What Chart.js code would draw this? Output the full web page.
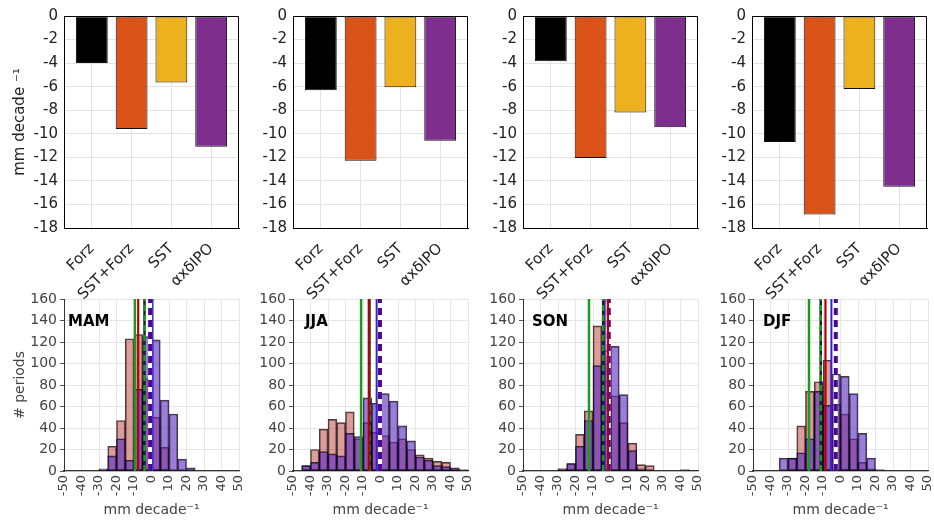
<!DOCTYPE html>
<html><head><meta charset="utf-8">
<script src="https://cdn.jsdelivr.net/npm/chart.js@4.4.0/dist/chart.umd.min.js"></script>
<style>
html,body{margin:0;padding:0;background:#fff;width:934px;height:523px;overflow:hidden;position:relative;}
canvas{position:absolute;}
</style></head><body>
<script>
// ---------------- DATA ----------------
const seasons = ['MAM', 'JJA', 'SON', 'DJF'];
const trendCategories = ['Forz', 'SST+Forz', 'SST', 'αxδIPO'];
const trendPositions = [1, 2, 3, 4];
const trendMAM = [-4.0, -9.6, -5.65, -11.1];
const trendJJA = [-6.3, -12.3, -6.05, -10.6];
const trendSON = [-3.85, -12.05, -8.2, -9.45];
const trendDJF = [-10.7, -16.85, -6.2, -14.5];
const trendTicks = [0, -2, -4, -6, -8, -10, -12, -14, -16, -18];

const binCenters = [-47.5, -42.5, -37.5, -32.5, -27.5, -22.5, -17.5, -12.5, -7.5, -2.5,
                    2.5, 7.5, 12.5, 17.5, 22.5, 27.5, 32.5, 37.5, 42.5, 47.5];
const histTicksX = [-50, -40, -30, -20, -10, 0, 10, 20, 30, 40, 50];
const histTicksY = [0, 20, 40, 60, 80, 100, 120, 140, 160];

const pinkMAM   = [0, 0, 0, 0, 1, 23, 47, 123, 127, 86, 50, 22, 0, 0, 0, 0, 0, 0, 0, 0];
const purpleMAM = [0, 0, 0, 0, 2, 14, 30, 10, 76, 125, 122, 66, 53, 11, 3, 0, 0, 0, 0, 0];
const pinkJJA   = [0, 5, 20, 39, 48, 45, 55, 30, 45, 36, 33, 27, 30, 20, 15, 12, 9, 8, 3, 1];
const purpleJJA = [0, 5, 8, 18, 16, 14, 35, 32, 68, 63, 72, 65, 42, 28, 13, 10, 5, 4, 2, 1];
const pinkSON   = [0, 0, 0, 0, 2, 7, 34, 56, 135, 112, 70, 45, 26, 6, 5, 0, 0, 0, 1, 0];
const purpleSON = [0, 0, 0, 0, 2, 7, 23, 47, 98, 100, 116, 71, 19, 2, 0, 0, 0, 0, 1, 0];
const pinkDJF   = [0, 0, 0, 0, 12, 42, 74, 83, 103, 62, 53, 30, 8, 2, 1, 0, 0, 0, 0, 0];
const purpleDJF = [0, 0, 0, 12, 12, 17, 30, 74, 61, 90, 88, 72, 35, 12, 1, 0, 0, 0, 0, 0];

// vertical reference lines: [green solid, red solid, green dashed, purple dashed, blue solid]
const vlinesMAM = [-9.5, -7.6, -4.0, -0.8, 0.6];
const vlinesJJA = [-11.1, -6.7, -6.3, -0.3, -2.2];
const vlinesSON = [-12.3, -1.5, -4.2, -1.0, -3.3];
const vlinesDJF = [-18.0, -8.6, -11.3, -2.7, -5.2];

// ---------------- STYLE / LAYOUT ----------------
const trendColors = ['#000000', '#D95319', '#EDB120', '#7E2F8E'];
const topPlotLeft = [64, 293, 523, 752];
const botPlotLeft = [64, 293.3, 523.3, 753.3];
const seasonLabelDx = [4, 12, 9, 10];
const vlineStyles = [
  {color: '#1c9a1c', width: 2.5, dash: []},
  {color: '#b0000a', width: 2.2, dash: []},
  {color: '#1c9a1c', width: 2.5, dash: [6, 4], under: '#1b1b3a'},
  {color: '#4a0a8a', width: 4, dash: [7, 5], under: '#ffffff'},
  {color: '#3a1fd0', width: 2, dash: []}
];

const decor = {
  id: 'decor',
  afterDatasetsDraw(chart, args, opts) {
    const {ctx, chartArea: a} = chart;
    ctx.save();
    if (opts.frame) {
      ctx.strokeStyle = '#000'; ctx.lineWidth = 1;
      ctx.beginPath();
      ctx.moveTo(Math.round(a.left) + 0.5, Math.round(a.top) + 0.5);
      ctx.lineTo(Math.round(a.right) - 0.5, Math.round(a.top) + 0.5);
      ctx.lineTo(Math.round(a.right) - 0.5, Math.round(a.bottom));
      ctx.stroke();
    }
    if (opts.label) {
      ctx.font = 'bold 15px "DejaVu Sans"';
      ctx.fillStyle = '#000';
      ctx.textBaseline = 'middle';
      ctx.fillText(opts.label, a.left + opts.dx, a.top + 23);
    }
    ctx.restore();
  }
};

function makeCanvas(left, top, w, h, z) {
  const c = document.createElement('canvas');
  c.width = w; c.height = h;
  c.style.left = left + 'px'; c.style.top = top + 'px';
  c.style.width = w + 'px'; c.style.height = h + 'px';
  c.style.zIndex = z;
  document.body.appendChild(c);
  return c;
}

const trends = [trendMAM, trendJJA, trendSON, trendDJF];
const pinks = [pinkMAM, pinkJJA, pinkSON, pinkDJF];
const purples = [purpleMAM, purpleJJA, purpleSON, purpleDJF];
const vlines = [vlinesMAM, vlinesJJA, vlinesSON, vlinesDJF];

// ---------------- TOP BAR PANELS ----------------
trends.forEach((vals, p) => {
  const W = 64 + 175 + 10, H = 310;
  const cv = makeCanvas(topPlotLeft[p] - 64, 0, W, H, 2);
  new Chart(cv, {
    type: 'bar',
    data: {
      datasets: [{
        data: trendPositions.map((x, i) => ({x: x, y: vals[i]})),
        backgroundColor: trendColors,
        borderColor: '#111',
        borderWidth: 1,
        borderSkipped: false,
        barPercentage: 0.8,
        categoryPercentage: 1
      }]
    },
    options: {
      responsive: false, animation: false, events: [],
      layout: {padding: {top: 16, right: 10, left: 0, bottom: 0}},
      plugins: {legend: {display: false}, tooltip: {enabled: false},
        decor: {frame: true}},
      scales: {
        x: {
          type: 'linear', min: 0.3, max: 4.7, offset: false,
          afterBuildTicks: s => { s.ticks = trendPositions.map(v => ({value: v})); },
          afterFit: s => { s.height = H - 16 - 212; },
          grid: {color: '#e3e3e3', drawTicks: false, offset: false},
          border: {display: true, color: '#000', width: 1},
          ticks: {
            autoSkip: false, minRotation: 45, maxRotation: 45, padding: 12,
            color: '#222', font: {family: 'DejaVu Sans', size: 15},
            callback: v => trendCategories[trendPositions.indexOf(v)]
          }
        },
        y: {
          min: -18, max: 0,
          afterBuildTicks: s => { s.ticks = trendTicks.map(v => ({value: v})); },
          afterFit: s => { s.width = 64; },
          grid: {color: '#e3e3e3', drawTicks: false},
          border: {display: true, color: '#000', width: 1},
          ticks: {padding: 6, color: '#222', font: {family: 'DejaVu Sans', size: 15}},
          title: {display: p === 0, text: 'mm decade ⁻¹', color: '#222',
            font: {family: 'DejaVu Sans', size: 15}, padding: {top: 11, bottom: 0}}
        }
      }
    },
    plugins: [decor]
  });
});

// ---------------- BOTTOM HISTOGRAM PANELS ----------------
seasons.forEach((season, p) => {
  const W = 64 + 175 + 24, H = 238;
  const cv = makeCanvas(botPlotLeft[p] - 64, 285, W, H, 1);
  const lineSets = [];
  vlines[p].forEach((v, i) => {
    const st = vlineStyles[i];
    lineSets.push({
      type: 'line', order: 0,
      data: [{x: v, y: 0}, {x: v, y: 160}],
      borderColor: st.color, borderWidth: st.width, borderDash: st.dash,
      pointRadius: 0, fill: false
    });
    if (st.under) {
      lineSets.push({
        type: 'line', order: 0,
        data: [{x: v, y: 0}, {x: v, y: 160}],
        borderColor: st.under, borderWidth: st.width, pointRadius: 0, fill: false
      });
    }
  });
  new Chart(cv, {
    type: 'bar',
    data: {
      datasets: lineSets.concat([
        {
          order: 1, grouped: false,
          data: binCenters.map((x, i) => ({x: x, y: purples[p][i]})),
          backgroundColor: 'rgba(88,40,190,0.6)',
          borderColor: 'rgba(0,0,0,0.75)', borderWidth: 1, borderSkipped: false,
          barPercentage: 1, categoryPercentage: 1
        },
        {
          order: 2, grouped: false,
          data: binCenters.map((x, i) => ({x: x, y: pinks[p][i]})),
          backgroundColor: 'rgba(185,60,60,0.5)',
          borderColor: 'rgba(0,0,0,0.75)', borderWidth: 1, borderSkipped: false,
          barPercentage: 1, categoryPercentage: 1
        }
      ])
    },
    options: {
      responsive: false, animation: false, events: [],
      layout: {padding: {top: 14, right: 24, left: 0, bottom: 0}},
      plugins: {legend: {display: false}, tooltip: {enabled: false},
        decor: {frame: false, label: season, dx: seasonLabelDx[p]}},
      scales: {
        x: {
          type: 'linear', min: -50, max: 50, offset: false,
          afterBuildTicks: s => { s.ticks = histTicksX.map(v => ({value: v})); },
          afterFit: s => { s.height = H - 14 - 172; },
          grid: {color: '#e6e6e6', drawTicks: false, offset: false},
          border: {display: true, color: '#333', width: 1.2},
          ticks: {autoSkip: false, minRotation: 90, maxRotation: 90, padding: 4,
            color: '#444', font: {family: 'DejaVu Sans', size: 13}},
          title: {display: true, text: 'mm decade⁻¹', color: '#444',
            font: {family: 'DejaVu Sans', size: 14}, padding: {top: 0, bottom: 4}}
        },
        y: {
          min: 0, max: 160,
          afterBuildTicks: s => { s.ticks = histTicksY.map(v => ({value: v})); },
          afterFit: s => { s.width = 64; },
          grid: {color: '#e6e6e6', drawTicks: true, tickLength: 4, tickColor: '#555'},
          border: {display: true, color: '#333', width: 1},
          ticks: {padding: 3, color: '#444', font: {family: 'DejaVu Sans', size: 14}},
          title: {display: p === 0, text: '# periods', color: '#444',
            font: {family: 'DejaVu Sans', size: 14}, padding: {top: 12, bottom: 0}}
        }
      }
    },
    plugins: [decor]
  });
});
</script>
</body></html>
